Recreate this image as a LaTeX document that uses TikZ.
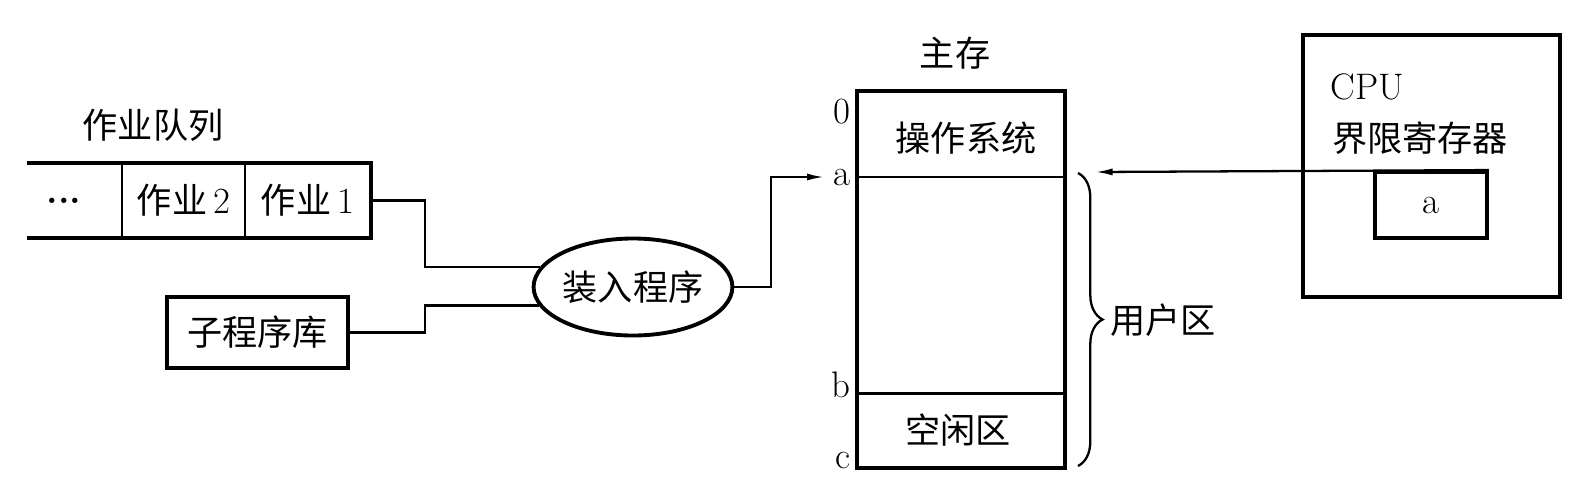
\documentclass[tikz,border=0pt]{standalone}
\usepackage{fontspec}
\newfontfamily\cjk{Noto Sans CJK SC}
\usepackage{tikz}
\usetikzlibrary{arrows.meta, shapes.geometric, decorations.pathreplacing}
\tikzset{>={Latex[length=10pt, width=4pt]}}
\tikzset{
    heavy/.style={line width=2.2pt},
    conn/.style={line width=1.3pt},
    cell/.style={draw, line width=1.3pt, inner sep=0pt, minimum height=14.6mm},
    zh/.style={font=\cjk\fontsize{20}{24}\selectfont},
    tag/.style={font=\fontsize{21}{25}\selectfont, anchor=east, inner sep=0pt}
}

\begin{document}
\begin{tikzpicture}[x=.2mm, y=-.2mm]
    \useasboundingbox (0, 0) rectangle (1573, 485);
    \node[zh] (queue) at (153, 125){作业队列};
    \node[cell, draw=none, minimum width=19mm, font=\fontsize{21}{25}\selectfont\bfseries] (dots) at (64, 200.5){...};
    \node[cell, zh, minimum width=24.6mm] (job2) at (183.5, 200.5){作业\,{\rmfamily\fontsize{21}{25}\selectfont 2}};
    \node[cell, zh, minimum width=25mm] (job1) at (307.5, 200.5){作业\,{\rmfamily\fontsize{21}{25}\selectfont 1}};
    \draw[heavy](job2.north west -| 27, 0)--(job1.north east)--(job1.south east)--(job2.south west -| 27, 0);
    \node[draw, heavy, zh, minimum width=36.2mm, minimum height=14.2mm] (lib) at (257.5, 332.5){子程序库};
    \node[draw, heavy, zh, ellipse, inner sep=0pt, minimum width=38.8mm, minimum height=19.4mm] (loader) at (633, 287){装入程序};
    \draw[conn](job1.east)--++(54, 0)|-(loader.168);
    \draw[conn](lib.east)--++(75, 0)|-(loader.191);
    \node[draw, heavy, minimum width=41.6mm, minimum height=75.4mm] (mem) at (961, 279.5){};
    \node[zh] (main) at (955, 53){主存};
    \coordinate (cuta) at (857, 177);
    \coordinate (cutb) at (857, 393);
    \draw[conn](cuta)--(cuta -| mem.east);
    \draw[line width=1.7pt](cutb)--(cutb -| mem.east);
    \node[tag] (l0) at (851, 112){0};
    \node[tag] (la) at (851, 177){a};
    \node[tag] (lb) at (851, 385){b};
    \node[tag] (lc) at (851, 460){c};
    \node[zh] (os) at (966, 138){操作系统};
    \node[zh] (free) at (958, 430){空闲区};
    \draw[conn, ->, shorten >=5pt](loader.east)--++(37, 0)|-(la.west);
    \draw[conn, decorate, decoration={brace, amplitude=14pt}](1078, 173)--(1078, 466);
    \node[zh, anchor=west] (user) at (1104, 320){用户区};
    \node[draw, heavy, minimum width=51.4mm, minimum height=52.4mm] (cpu) at (1431.5, 166){};
    \node[anchor=west, inner sep=0pt, font=\fontsize{21}{25}\selectfont] (cpuname) at (1330, 87){CPU};
    \node[zh, anchor=west, inner sep=0pt] (limit) at (1332, 138){界限寄存器};
    \node[draw, heavy, font=\fontsize{21}{25}\selectfont, minimum width=22.4mm, minimum height=13.2mm] (reg) at (1431, 205){a};
    \coordinate (bound) at (1095, 172);
    \draw[conn, ->](reg.north east)--(bound);
\end{tikzpicture}
\end{document}
